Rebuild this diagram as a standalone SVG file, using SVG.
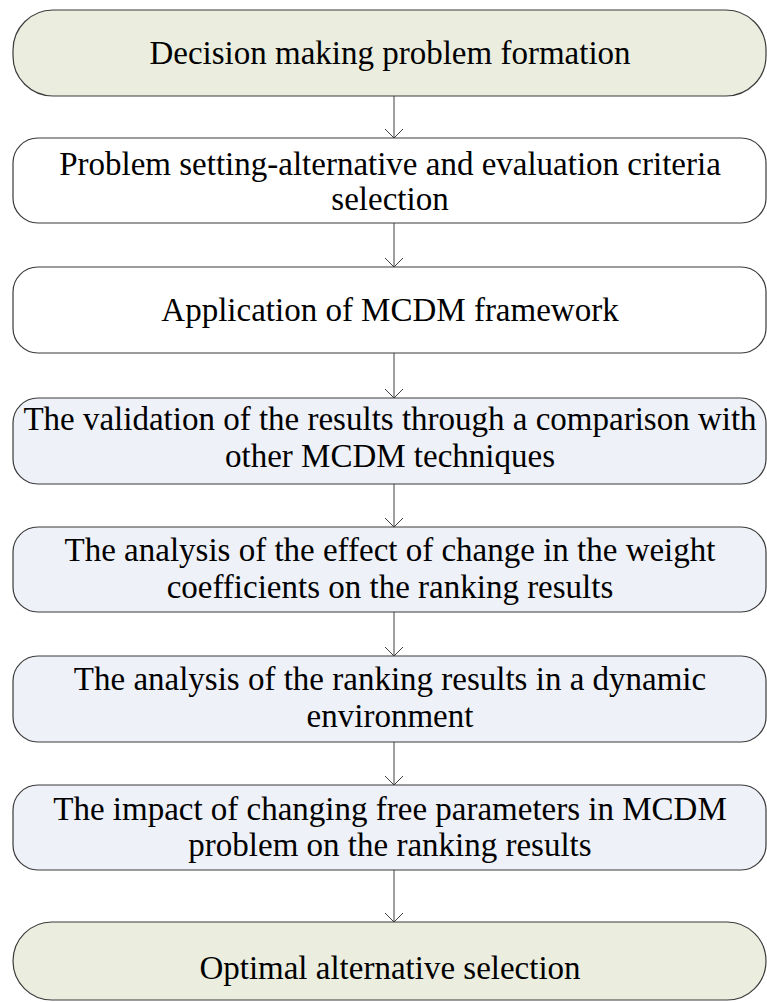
<svg xmlns="http://www.w3.org/2000/svg" width="767" height="1002" viewBox="0 0 767 1002">
  <style>
    .box { stroke: #3a3a3a; stroke-width: 1.2; }
    .term { fill: #EBEEDF; }
    .plain { fill: #FFFFFF; }
    .check { fill: #EEF1F7; }
    .label { font-family: 'Liberation Serif', 'Times New Roman', 'DejaVu Serif', serif; font-size: 33px; fill: #000; text-anchor: middle; }
    .flow { stroke: #404040; stroke-width: 1; fill: none; }
  </style>

  <!-- vertical flow arrows with open chevron heads -->
  <g id="connectors">
    <line class="flow" x1="394" y1="96" x2="394" y2="138"/>
    <path class="flow" d="M385,129 L394,138 L403,129"/>
    <line class="flow" x1="394" y1="223" x2="394" y2="267"/>
    <path class="flow" d="M385,258 L394,267 L403,258"/>
    <line class="flow" x1="394" y1="353" x2="394" y2="398"/>
    <path class="flow" d="M385,389 L394,398 L403,389"/>
    <line class="flow" x1="394" y1="484" x2="394" y2="527"/>
    <path class="flow" d="M385,518 L394,527 L403,518"/>
    <line class="flow" x1="394" y1="612" x2="394" y2="656"/>
    <path class="flow" d="M385,647 L394,656 L403,647"/>
    <line class="flow" x1="394" y1="742" x2="394" y2="785"/>
    <path class="flow" d="M385,776 L394,785 L403,776"/>
    <line class="flow" x1="394" y1="870" x2="394" y2="922"/>
    <path class="flow" d="M385,913 L394,922 L403,913"/>
  </g>

  <g id="start">
    <rect class="box term" x="13" y="10" width="753" height="86" rx="40" ry="40"/>
    <text class="label" x="390" y="64">Decision making problem formation</text>
  </g>

  <g id="setting">
    <rect class="box plain" x="13" y="138" width="753" height="85" rx="25" ry="25"/>
    <text class="label" x="390" y="175">Problem setting-alternative and evaluation criteria</text>
    <text class="label" x="390" y="210">selection</text>
  </g>

  <g id="framework">
    <rect class="box plain" x="13" y="267" width="753" height="86" rx="25" ry="25"/>
    <text class="label" x="390" y="321">Application of MCDM framework</text>
  </g>

  <g id="validation">
    <rect class="box check" x="13" y="398" width="753" height="86" rx="25" ry="25"/>
    <text class="label" x="390" y="430">The validation of the results through a comparison with</text>
    <text class="label" x="390" y="467">other MCDM techniques</text>
  </g>

  <g id="weights">
    <rect class="box check" x="13" y="527" width="753" height="85" rx="25" ry="25"/>
    <text class="label" x="390" y="561">The analysis of the effect of change in the weight</text>
    <text class="label" x="390" y="598">coefficients on the ranking results</text>
  </g>

  <g id="dynamic">
    <rect class="box check" x="13" y="656" width="753" height="86" rx="25" ry="25"/>
    <text class="label" x="390" y="690">The analysis of the ranking results in a dynamic</text>
    <text class="label" x="390" y="727">environment</text>
  </g>

  <g id="parameters">
    <rect class="box check" x="13" y="785" width="753" height="85" rx="25" ry="25"/>
    <text class="label" x="390" y="820">The impact of changing free parameters in MCDM</text>
    <text class="label" x="390" y="856">problem on the ranking results</text>
  </g>

  <g id="end">
    <rect class="box term" x="13" y="922" width="753" height="78" rx="39" ry="39"/>
    <text class="label" x="390" y="979">Optimal alternative selection</text>
  </g>
</svg>
